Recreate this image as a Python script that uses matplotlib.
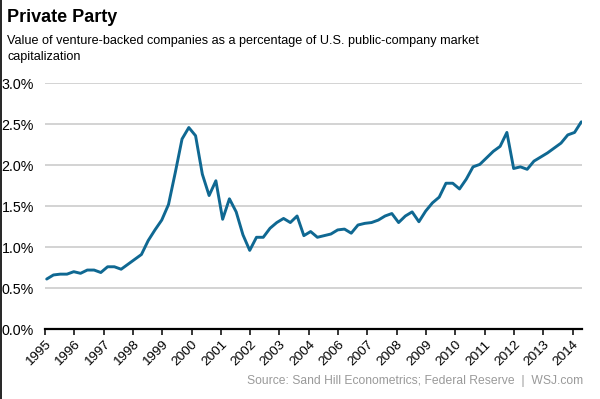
import numpy as np
import matplotlib
matplotlib.use('Agg')
import matplotlib.pyplot as plt
from matplotlib.lines import Line2D

plt.rcParams['font.family'] = ['Liberation Sans', 'DejaVu Sans']

# quarterly values, 1995 Q1 - 2014 Q4 (% of U.S. public-company market cap)
share = [0.61, 0.66, 0.67, 0.67, 0.70, 0.68, 0.72, 0.72, 0.69, 0.76,
         0.76, 0.73, 0.79, 0.85, 0.91, 1.08, 1.21, 1.33, 1.52, 1.91,
         2.32, 2.46, 2.36, 1.89, 1.63, 1.81, 1.34, 1.59, 1.43, 1.15,
         0.96, 1.12, 1.12, 1.23, 1.30, 1.35, 1.30, 1.38, 1.14, 1.19,
         1.12, 1.14, 1.16, 1.21, 1.22, 1.17, 1.27, 1.29, 1.30, 1.33,
         1.38, 1.41, 1.30, 1.38, 1.43, 1.31, 1.44, 1.54, 1.61, 1.78,
         1.78, 1.71, 1.83, 1.98, 2.01, 2.09, 2.17, 2.23, 2.40, 1.96,
         1.98, 1.95, 2.05, 2.10, 2.15, 2.21, 2.27, 2.37, 2.40, 2.53]
year_labels = ['1995', '1996', '1997', '1998', '1999', '2000', '2001', '2002',
               '2003', '2004', '2006', '2007', '2008', '2009', '2010', '2011',
               '2012', '2013', '2014']
y_ticks = [0.0, 0.5, 1.0, 1.5, 2.0, 2.5, 3.0]

fig = plt.figure(figsize=(6, 3.99), dpi=100)
ax = fig.add_axes([0.075, 0.1754, 0.895, 0.6158])

x = np.arange(len(share))
ax.plot(x, share, color='#0f6892', linewidth=2.1, solid_joinstyle='round',
        solid_capstyle='round', zorder=3)

ax.set_ylim(0, 3)
ax.set_xlim(-0.25, 79.1)
ax.set_yticks(y_ticks)
ax.set_yticklabels(['%.1f%%' % v for v in y_ticks], fontsize=10.3)
ax.tick_params(axis='y', length=0, pad=8)
ax.yaxis.grid(True, color='#c8c8c8', linewidth=1.1)
ax.set_axisbelow(True)

ax.set_xticks(np.linspace(-0.25, 77.7, len(year_labels)))
ax.set_xticklabels(year_labels, rotation=45, ha='right', va='top',
                   rotation_mode='anchor', fontsize=9.7)
ax.tick_params(axis='x', direction='out', length=4, width=1.1, color='black', pad=3)

for s in ['top', 'right', 'left']:
    ax.spines[s].set_visible(False)
ax.spines['bottom'].set_color('black')
ax.spines['bottom'].set_linewidth(1.6)

fig.text(0.012, 0.955, 'Private Party', fontsize=13, fontweight='bold',
         va='center', ha='left')
fig.text(0.012, 0.897, 'Value of venture-backed companies as a percentage of U.S. public-company market',
         fontsize=9.1, va='center', ha='left')
fig.text(0.012, 0.856, 'capitalization', fontsize=9.1, va='center', ha='left')
fig.text(0.972, 0.045, 'Source: Sand Hill Econometrics; Federal Reserve  |  WSJ.com',
         fontsize=8.7, color='#9a9a9a', va='center', ha='right')

fig.add_artist(Line2D([0.001, 0.001], [0, 1], color='black', linewidth=1.2,
                      transform=fig.transFigure))

fig.savefig('out.png', dpi=100)
